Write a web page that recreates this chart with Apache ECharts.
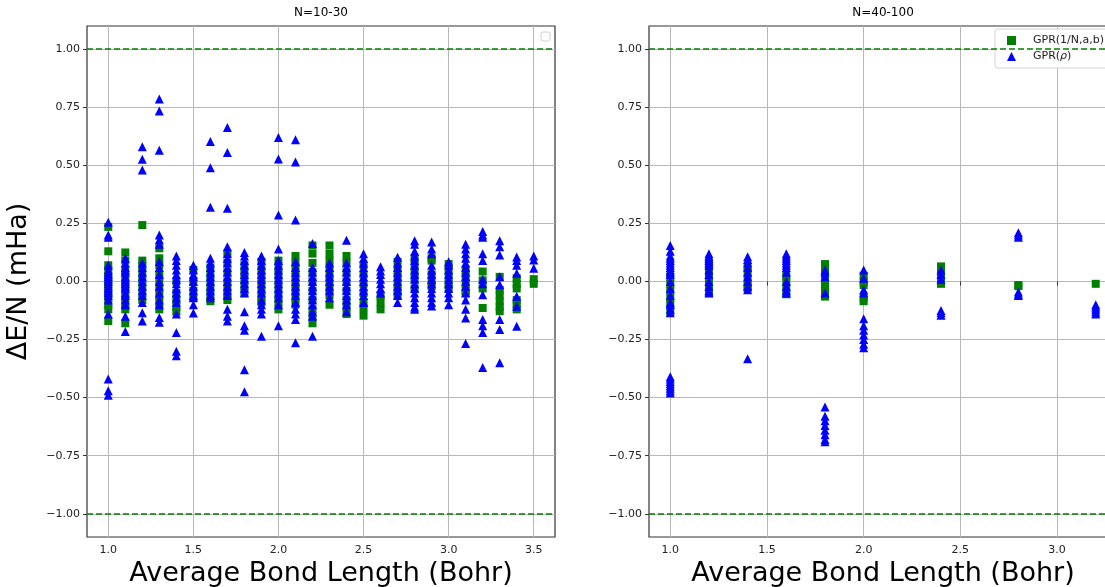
<!DOCTYPE html>
<html>
<head>
<meta charset="utf-8">
<script src="https://cdn.jsdelivr.net/npm/echarts@6/dist/echarts.min.js"></script>
<style>
  html, body { margin: 0; padding: 0; background: #fff; }
  #chart { width: 1105px; height: 587px; }
</style>
</head>
<body>
<div id="chart"></div>
<script>
// N=10-30 panel: one list of values per bond length
const leftX = [1.0, 1.1, 1.2, 1.3, 1.4, 1.5, 1.6, 1.7, 1.8, 1.9, 2.0, 2.1, 2.2, 2.3, 2.4, 2.5, 2.6, 2.7, 2.8, 2.9, 3.0, 3.1, 3.2, 3.3, 3.4, 3.5];
const leftSquares = [
  [0.235, 0.13, 0.07, 0.05, 0.02, 0.0, -0.02, -0.05, -0.07, -0.1, -0.12, -0.17],
  [0.125, 0.09, 0.05, 0.02, -0.01, -0.04, -0.07, -0.1, -0.12, -0.18],
  [0.243, 0.09, 0.07, 0.04, 0.01, -0.02, -0.05, -0.08],
  [0.143, 0.1, 0.07, 0.03, 0.0, -0.03, -0.06, -0.09, -0.12],
  [0.0, -0.05, -0.08, -0.11, -0.13],
  [0.05, 0.0, -0.04, -0.07],
  [0.06, 0.03, 0.0, -0.03, -0.06, -0.085],
  [0.12, 0.08, 0.04, 0.0, -0.03, -0.06, -0.08],
  [0.07, 0.04, 0.01, -0.02, -0.05],
  [0.085, 0.05, 0.02, -0.01, -0.04, -0.07, -0.09],
  [0.09, 0.06, 0.03, 0.0, -0.03, -0.06, -0.09, -0.12],
  [0.11, 0.08, 0.05, 0.02, -0.01, -0.04, -0.07, -0.1],
  [0.155, 0.12, 0.08, 0.04, 0.0, -0.04, -0.08, -0.12, -0.15, -0.18],
  [0.155, 0.12, 0.09, 0.06, 0.03, 0.0, -0.03, -0.06, -0.1],
  [0.11, 0.08, 0.04, 0.0, -0.04, -0.08, -0.11, -0.14],
  [0.07, 0.03, -0.01, -0.05, -0.09, -0.115, -0.147],
  [-0.06, -0.09, -0.12],
  [0.085, 0.05, 0.02, -0.01, -0.04, -0.06],
  [0.1, 0.07, 0.04, 0.01, -0.03],
  [0.1, 0.09, 0.03, 0.0, -0.02],
  [0.075, 0.05, 0.02, -0.01, -0.03],
  [0.05, 0.02, -0.01, -0.04, -0.05],
  [0.043, 0.005, -0.03, -0.114],
  [0.02, -0.036, -0.06, -0.085, -0.11, -0.128],
  [0.014, -0.01, -0.03, -0.08, -0.1, -0.12],
  [0.01, -0.01]
];
const leftTriangles = [
  [0.255, 0.2, 0.19, 0.07, 0.05, 0.04, 0.03, 0.02, 0.01, 0.0, -0.01, -0.02, -0.03, -0.04, -0.05, -0.06, -0.08, -0.14, -0.42, -0.47, -0.49],
  [0.1, 0.08, 0.06, 0.05, 0.04, 0.02, 0.01, 0.0, -0.01, -0.02, -0.03, -0.05, -0.06, -0.08, -0.1, -0.15, -0.215],
  [0.58, 0.526, 0.48, 0.08, 0.06, 0.04, 0.02, 0.0, -0.02, -0.04, -0.06, -0.09, -0.135, -0.17],
  [0.786, 0.734, 0.565, 0.2, 0.18, 0.16, 0.086, 0.06, 0.03, 0.0, -0.02, -0.05, -0.08, -0.1, -0.155, -0.175],
  [0.11, 0.09, 0.07, 0.05, 0.03, 0.01, -0.01, -0.03, -0.05, -0.07, -0.09, -0.14, -0.22, -0.3, -0.32],
  [0.07, 0.05, 0.03, 0.02, 0.0, -0.02, -0.04, -0.06, -0.07, -0.1, -0.136],
  [0.603, 0.49, 0.32, 0.1, 0.08, 0.06, 0.04, 0.02, 0.0, -0.02, -0.04, -0.06, -0.07],
  [0.663, 0.555, 0.315, 0.15, 0.12, 0.1, 0.08, 0.06, 0.04, 0.02, 0.0, -0.02, -0.04, -0.06, -0.12, -0.15, -0.17],
  [0.125, 0.11, 0.09, 0.07, 0.05, 0.03, 0.01, -0.01, -0.03, -0.05, -0.13, -0.19, -0.21, -0.38, -0.475],
  [0.11, 0.09, 0.07, 0.05, 0.03, 0.01, -0.01, -0.03, -0.05, -0.08, -0.1, -0.12, -0.14, -0.236],
  [0.62, 0.527, 0.286, 0.14, 0.09, 0.07, 0.05, 0.03, 0.01, -0.01, -0.03, -0.05, -0.07, -0.1, -0.19],
  [0.61, 0.514, 0.265, 0.086, 0.06, 0.04, 0.02, 0.0, -0.02, -0.04, -0.06, -0.09, -0.12, -0.14, -0.164, -0.264],
  [0.164, 0.06, 0.04, 0.02, 0.0, -0.02, -0.04, -0.06, -0.08, -0.1, -0.13, -0.15, -0.236],
  [0.08, 0.06, 0.04, 0.02, 0.0, -0.02, -0.04, -0.07],
  [0.178, 0.08, 0.06, 0.04, 0.02, 0.0, -0.02, -0.04, -0.06, -0.08, -0.1, -0.13],
  [0.12, 0.1, 0.08, 0.06, 0.04, 0.02, 0.0, -0.02, -0.04, -0.06, -0.09],
  [0.064, 0.045, 0.03, 0.01, -0.01, -0.03, -0.05],
  [0.104, 0.08, 0.06, 0.04, 0.02, 0.0, -0.02, -0.04, -0.06, -0.09],
  [0.175, 0.16, 0.13, 0.11, 0.09, 0.07, 0.05, 0.03, 0.01, -0.01, -0.03, -0.05, -0.07, -0.09, -0.11, -0.12],
  [0.17, 0.14, 0.12, 0.07, 0.05, 0.03, 0.01, -0.01, -0.03, -0.05, -0.07, -0.09, -0.105],
  [0.085, 0.07, 0.05, 0.03, 0.01, -0.01, -0.03, -0.05, -0.07, -0.1],
  [0.16, 0.14, 0.12, 0.1, 0.08, 0.06, 0.04, 0.02, 0.0, -0.02, -0.05, -0.08, -0.12, -0.157, -0.267],
  [0.215, 0.2, 0.19, 0.12, 0.09, 0.01, -0.01, -0.057, -0.164, -0.19, -0.22, -0.37],
  [0.175, 0.15, 0.114, 0.02, -0.014, -0.164, -0.207, -0.35],
  [0.105, 0.09, 0.07, 0.036, -0.064, -0.107, -0.193],
  [0.11, 0.093, 0.057]
];

// N=40-100 panel
const rightX = [1.0, 1.2, 1.4, 1.6, 1.8, 2.0, 2.4, 2.8, 3.2];
const rightSquares = [
  [0.02, -0.01, -0.04, -0.07, -0.1, -0.13],
  [0.075, 0.05, 0.02, 0.0, -0.03, -0.05],
  [0.064, 0.04, 0.01, -0.02, -0.03],
  [0.025, 0.0, -0.03, -0.055],
  [0.075, 0.05, 0.02, -0.01, -0.04, -0.065],
  [0.025, 0.0, -0.015, -0.07, -0.085],
  [0.065, 0.04, 0.01, -0.01],
  [-0.015, -0.02],
  [-0.01]
];
const rightTriangles = [
  [0.155, 0.13, 0.11, 0.1, 0.09, 0.08, 0.07, 0.06, 0.05, 0.04, 0.03, 0.0, -0.03, -0.06, -0.09, -0.1, -0.12, -0.135, -0.41, -0.42, -0.43, -0.44, -0.45, -0.46, -0.47, -0.48],
  [0.12, 0.11, 0.1, 0.09, 0.08, 0.07, 0.05, 0.03, 0.0, -0.02, -0.04, -0.05],
  [0.107, 0.095, 0.08, 0.06, 0.04, 0.02, 0.0, -0.02, -0.036, -0.333],
  [0.12, 0.11, 0.1, 0.09, 0.08, 0.07, 0.06, 0.04, 0.0, -0.02, -0.04, -0.05],
  [0.05, 0.04, 0.02, -0.05, -0.54, -0.58, -0.6, -0.62, -0.64, -0.66, -0.68, -0.69],
  [0.05, 0.014, -0.036, -0.05, -0.16, -0.19, -0.21, -0.23, -0.25, -0.27, -0.285],
  [0.05, 0.03, 0.01, -0.125, -0.135, -0.145],
  [0.21, 0.2, 0.19, -0.045, -0.055, -0.06],
  [-0.1, -0.11, -0.12, -0.13, -0.14]
];

const yTicks = [-1.0, -0.75, -0.5, -0.25, 0.0, 0.25, 0.5, 0.75, 1.0];
const leftXTicks = [1.0, 1.5, 2.0, 2.5, 3.0, 3.5];
const rightXTicks = [1.0, 1.5, 2.0, 2.5, 3.0];

const GREEN = '#008000';
const BLUE = '#0000ff';
const FONT = 'DejaVu Sans';

const pairs = (xs, cols) => xs.map((x, i) => cols[i].map(v => [x, v])).flat();

const fmtY = v => v.toFixed(2).replace('-', '\u2212');
const fmtX = v => v.toFixed(1);

const xAxisBase = (gridIndex, min, max, ticks) => ({
  type: 'value',
  gridIndex,
  min,
  max,
  name: 'Average Bond Length (Bohr)',
  nameLocation: 'middle',
  nameGap: 21,
  nameTextStyle: {fontFamily: FONT, fontSize: 27, color: '#000'},
  axisLine: {show: false},
  axisTick: {show: true, length: 4, customValues: ticks, lineStyle: {color: '#333'}},
  axisLabel: {customValues: ticks, formatter: fmtX, margin: 8, fontFamily: FONT, fontSize: 11, color: '#222'},
  splitLine: {show: true, lineStyle: {color: '#b8b8b8', width: 1}},
});

const yAxisBase = (gridIndex, showName) => ({
  type: 'value',
  gridIndex,
  min: -1.1,
  max: 1.1,
  name: showName ? '\u0394E/N (mHa)' : '',
  nameLocation: 'middle',
  nameGap: 55,
  nameTextStyle: {fontFamily: FONT, fontSize: 27, color: '#000'},
  axisLine: {show: false},
  axisTick: {show: true, length: 4, customValues: yTicks, lineStyle: {color: '#333'}},
  axisLabel: {customValues: yTicks, formatter: fmtY, margin: 7, fontFamily: FONT, fontSize: 11, color: '#222'},
  splitLine: {show: true, lineStyle: {color: '#b8b8b8', width: 1}},
});

const refLines = {
  silent: true,
  symbol: 'none',
  label: {show: false},
  lineStyle: {color: GREEN, type: [6, 3], width: 1.5},
  data: [{yAxis: 1}, {yAxis: -1}],
};

const squareSeries = (idx, data) => ({
  name: 'GPR(1/N,a,b)',
  type: 'scatter',
  xAxisIndex: idx,
  yAxisIndex: idx,
  symbol: 'rect',
  symbolSize: 8,
  itemStyle: {color: GREEN, opacity: 1},
  data,
  markLine: refLines,
  z: 2,
});

const triangleSeries = (idx, data) => ({
  name: 'GPR(\u03c1)',
  type: 'scatter',
  xAxisIndex: idx,
  yAxisIndex: idx,
  symbol: 'triangle',
  symbolSize: 9,
  itemStyle: {color: BLUE, opacity: 1},
  data,
  z: 3,
});

const gridBase = left => ({
  left, top: 26, width: 468, height: 511,
  outerBoundsMode: 'none',
  containLabel: false,
  show: true, borderColor: '#333', borderWidth: 1.2, backgroundColor: 'transparent',
});

const chart = echarts.init(document.getElementById('chart'));
chart.setOption({
  animation: false,
  backgroundColor: '#fff',
  grid: [gridBase(87), gridBase(649)],
  xAxis: [
    xAxisBase(0, 0.875, 3.625, leftXTicks),
    xAxisBase(1, 0.89, 3.31, rightXTicks),
  ],
  yAxis: [yAxisBase(0, true), yAxisBase(1, false)],
  legend: {
    orient: 'vertical',
    left: 995,
    top: 29,
    padding: [6, 40, 6, 12],
    itemWidth: 9,
    itemHeight: 9,
    itemGap: 5,
    backgroundColor: '#fff',
    borderColor: '#d4d4d4',
    borderWidth: 1,
    borderRadius: 3,
    data: ['GPR(1/N,a,b)', 'GPR(\u03c1)'],
    formatter: name => name === 'GPR(\u03c1)' ? 'GPR({i|\u03c1})' : name,
    textStyle: {
      fontFamily: FONT, fontSize: 11, color: '#222', padding: [0, 0, 0, 12],
      rich: {i: {fontFamily: FONT, fontSize: 11, fontStyle: 'italic', color: '#222'}},
    },
  },
  graphic: [
    {type: 'text', x: 321, y: 13, style: {text: 'N=10-30', fontFamily: FONT, fontSize: 12, fill: '#000', textAlign: 'center', textVerticalAlign: 'middle'}},
    {type: 'text', x: 883, y: 13, style: {text: 'N=40-100', fontFamily: FONT, fontSize: 12, fill: '#000', textAlign: 'center', textVerticalAlign: 'middle'}},
    // empty legend box of the left panel
    {type: 'rect', shape: {x: 541, y: 32, width: 9, height: 9, r: 2}, style: {fill: '#fff', stroke: '#d0d0d0', lineWidth: 1}, z: 10},
  ],
  series: [
    squareSeries(0, pairs(leftX, leftSquares)),
    triangleSeries(0, pairs(leftX, leftTriangles)),
    squareSeries(1, pairs(rightX, rightSquares)),
    triangleSeries(1, pairs(rightX, rightTriangles)),
  ],
});
</script>
</body>
</html>
